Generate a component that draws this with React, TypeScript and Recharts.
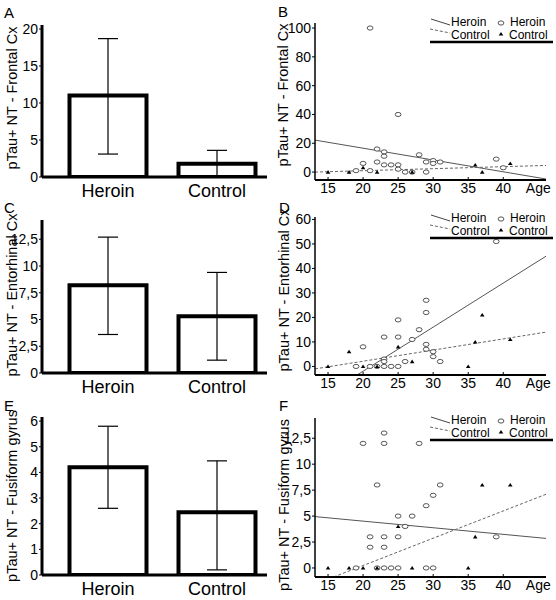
import React from "react";
import { ComposedChart, Bar, ErrorBar, XAxis, YAxis, Scatter, Line } from "recharts";

const FONT = '"Liberation Sans", Arial, Helvetica, sans-serif';

// bar panels (A, C, E)
const groups = ["Heroin", "Control"];
const frontalMean = [11, 1.8];
const frontalLow = [3.1, 0];
const frontalHigh = [18.7, 3.6];
const entoMean = [8.2, 5.3];
const entoLow = [3.6, 1.2];
const entoHigh = [12.7, 9.4];
const fusiMean = [4.2, 2.45];
const fusiLow = [2.6, 0.2];
const fusiHigh = [5.8, 4.45];

// scatter panels (B, D, F): [age, count]
const frontalHeroin = [
  [21, 100], [25, 40], [22, 16], [23, 14], [23, 11], [20, 6], [22, 7], [23, 5],
  [24, 5], [25, 5], [25, 2], [19, 1], [21, 1], [26, 0], [27, 0], [29, 0],
  [28, 12], [29, 7], [30, 8], [30, 6], [31, 7], [39, 9], [40, 3],
];
const frontalControl = [[15, 0], [18, 0], [20, 3], [22, 0], [27, 0], [36, 5], [37, 0], [41, 6]];
const entoHeroin = [
  [39, 51], [29, 27], [29, 22], [25, 19], [28, 15], [23, 12], [25, 12], [27, 11],
  [20, 8], [29, 9], [29, 7], [30, 6], [30, 4], [31, 2], [26, 2], [23, 3], [23, 2],
  [19, 0], [21, 0], [22, 0], [23, 0], [24, 0], [25, 0],
];
const entoControl = [[15, 0], [18, 6], [20, 0], [22, 0], [25, 8], [27, 2], [35, 0], [36, 10], [37, 21], [41, 11]];
const fusiHeroin = [
  [23, 13], [23, 12], [20, 12], [28, 12], [22, 8], [31, 8], [30, 7], [29, 6],
  [25, 5], [27, 5], [26, 4], [21, 3], [23, 3], [25, 3], [39, 3], [21, 2], [23, 2],
  [19, 0], [22, 0], [23, 0], [24, 0], [25, 0], [29, 0], [30, 0],
];
const fusiControl = [[15, 0], [18, 0], [20, 0], [22, 0], [25, 4], [27, 0], [35, 0], [36, 3], [37, 8], [41, 8]];

// fitted lines, read at both ends
const frontalHeroinFit = [[13.14, 22.2], [46.1, -4.8]];
const frontalControlFit = [[13.14, 0], [46.1, 4.6]];
const entoHeroinFit = [[19.14, -3.5], [46.1, 45]];
const entoControlFit = [[13.14, -1], [46.1, 14]];
const fusiHeroinFit = [[13.14, 4.95], [46.1, 2.85]];
const fusiControlFit = [[15.8, -0.87], [46.1, 7.1]];

const ageTicks = [15, 20, 25, 30, 35, 40, 45];

const comma = (v: number) => String(v).replace(".", ",");
const toPts = (arr: number[][]) => arr.map(([age, v]) => ({ age, v }));

const OpenEllipse = (p: any) => (
  <ellipse cx={p.cx} cy={p.cy} rx={2.9} ry={2.1} fill="#fff" stroke="#444" strokeWidth={0.9} />
);
const FilledTri = (p: any) => (
  <polygon
    points={`${p.cx - 2.3},${p.cy + 1.6} ${p.cx + 2.3},${p.cy + 1.6} ${p.cx},${p.cy - 2}`}
    fill="#000"
  />
);

const AgeTick = (props: any) => {
  const { x, y, payload } = props;
  const isAge = payload.value === 45;
  return (
    <g>
      {!isAge && <line x1={x} x2={x} y1={y - 3} y2={y - 6} stroke="#000" strokeWidth={1} />}
      <text x={x} y={y} dy="0.71em" textAnchor="middle" fontSize={14} fill="#000" fontFamily={FONT}>
        {isAge ? "Age" : payload.value}
      </text>
    </g>
  );
};

const BarPanel = ({ top, height, marginTop, xHeight, mean, low, high, yMax, yTicks }: any) => {
  const data = groups.map((g, i) => ({
    pos: i + 1,
    name: g,
    mean: mean[i],
    err: [mean[i] - low[i], high[i] - mean[i]],
  }));
  return (
    <div style={{ position: "absolute", left: 0, top }}>
      <ComposedChart width={278} height={height} data={data} margin={{ top: marginTop, right: 11, left: 0, bottom: 0 }}>
        <XAxis
          type="number"
          dataKey="pos"
          domain={[0.3945, 2.4587]}
          ticks={[1, 2]}
          tickFormatter={(v) => groups[v - 1]}
          allowDataOverflow
          height={xHeight}
          axisLine={{ stroke: "#000", strokeWidth: 3 }}
          tickLine={false}
          tickMargin={1}
          tick={{ fill: "#000", fontSize: 18, fontFamily: FONT }}
        />
        <YAxis
          type="number"
          width={42}
          domain={[0, yMax]}
          ticks={yTicks}
          tickFormatter={comma}
          allowDataOverflow
          axisLine={{ stroke: "#000", strokeWidth: 3 }}
          tickLine={{ stroke: "#000" }}
          tickSize={3}
          tickMargin={1}
          tick={{ fill: "#000", fontSize: 14, fontFamily: FONT }}
        />
        <Bar dataKey="mean" fill="#fff" stroke="#000" strokeWidth={4} barSize={77} isAnimationActive={false}>
          <ErrorBar dataKey="err" width={10} stroke="#000" strokeWidth={1.2} direction="y" />
        </Bar>
      </ComposedChart>
    </div>
  );
};

const ScatterPanel = ({ top, height, marginTop, xHeight, heroin, control, heroinFit, controlFit, yDomain, yTicks }: any) => (
  <div style={{ position: "absolute", left: 278, top }}>
    <ComposedChart width={278} height={height} margin={{ top: marginTop, right: 10, left: 0, bottom: 0 }}>
      <XAxis
        type="number"
        dataKey="age"
        domain={[13.14, 46.1]}
        ticks={ageTicks}
        allowDataOverflow
        height={xHeight}
        axisLine={{ stroke: "#000", strokeWidth: 2 }}
        tickLine={false}
        tickSize={0}
        tickMargin={3}
        tick={<AgeTick />}
      />
      <YAxis
        type="number"
        width={37}
        domain={yDomain}
        ticks={yTicks}
        tickFormatter={comma}
        allowDataOverflow
        axisLine={{ stroke: "#000", strokeWidth: 1.5 }}
        tickLine={{ stroke: "#000" }}
        tickSize={3}
        tickMargin={1}
        tick={{ fill: "#000", fontSize: 14, fontFamily: FONT }}
      />
      <Line data={toPts(heroinFit)} dataKey="v" stroke="#555" strokeWidth={1} dot={false} isAnimationActive={false} />
      <Line
        data={toPts(controlFit)}
        dataKey="v"
        stroke="#666"
        strokeWidth={1}
        strokeDasharray="3 2"
        dot={false}
        isAnimationActive={false}
      />
      <Scatter data={toPts(heroin)} dataKey="v" shape={OpenEllipse} isAnimationActive={false} />
      <Scatter data={toPts(control)} dataKey="v" shape={FilledTri} isAnimationActive={false} />
    </ComposedChart>
  </div>
);

const FitLegend = ({ dy }: { dy: number }) => (
  <g transform={`translate(0, ${dy})`} fontFamily={FONT} fontSize={12} fill="#000">
    <line x1={431} y1={19} x2={450} y2={25} stroke="#444" strokeWidth={1} />
    <text x={451} y={26}>Heroin</text>
    <line x1={430} y1={29} x2={450} y2={33} stroke="#666" strokeWidth={1} strokeDasharray="3 2" />
    <text x={451} y={38.5}>Control</text>
    <ellipse cx={501} cy={23} rx={2.9} ry={2.1} fill="#fff" stroke="#444" strokeWidth={0.9} />
    <text x={510} y={26}>Heroin</text>
    <polygon points="498.7,35.6 503.3,35.6 501,32" fill="#000" />
    <text x={509} y={38.5}>Control</text>
    <line x1={430} y1={42} x2={553} y2={42} stroke="#000" strokeWidth={2.5} />
  </g>
);

const YLabel = ({ x, y, text }: { x: number; y: number; text: string }) => (
  <text
    x={x}
    y={y}
    transform={`rotate(-90, ${x}, ${y})`}
    textAnchor="middle"
    dominantBaseline="central"
    fontFamily={FONT}
    fontSize={14.5}
    fill="#000"
  >
    {text}
  </text>
);

export default function App() {
  return (
    <div style={{ position: "absolute", left: 0, top: 0, width: 556, height: 600, background: "#fff", overflow: "hidden" }}>
      <BarPanel top={0} height={205} marginTop={25} xHeight={28} mean={frontalMean} low={frontalLow} high={frontalHigh} yMax={20.54} yTicks={[0, 5, 10, 15, 20]} />
      <BarPanel top={197} height={205} marginTop={23} xHeight={29} mean={entoMean} low={entoLow} high={entoHigh} yMax={14.3} yTicks={[0, 2.5, 5, 7.5, 10, 12.5]} />
      <BarPanel top={394} height={206} marginTop={23} xHeight={25} mean={fusiMean} low={fusiLow} high={fusiHigh} yMax={6.16} yTicks={[0, 1, 2, 3, 4, 5, 6]} />
      <ScatterPanel top={0} height={197} marginTop={23} xHeight={17} heroin={frontalHeroin} control={frontalControl} heroinFit={frontalHeroinFit} controlFit={frontalControlFit} yDomain={[-5.5, 103.5]} yTicks={[0, 20, 40, 60, 80, 100]} />
      <ScatterPanel top={197} height={197} marginTop={20} xHeight={19} heroin={entoHeroin} control={entoControl} heroinFit={entoHeroinFit} controlFit={entoControlFit} yDomain={[-3.5, 61]} yTicks={[0, 10, 20, 30, 40, 50, 60]} />
      <ScatterPanel top={394} height={206} marginTop={24} xHeight={23} heroin={fusiHeroin} control={fusiControl} heroinFit={fusiHeroinFit} controlFit={fusiControlFit} yDomain={[-0.87, 14.45]} yTicks={[0, 2.5, 5, 7.5, 10, 12.5]} />
      <svg width={556} height={600} style={{ position: "absolute", left: 0, top: 0, pointerEvents: "none" }}>
        <g fontFamily={FONT} fontSize={15} fill="#000">
          <text x={4} y={18}>A</text>
          <text x={278} y={17}>B</text>
          <text x={4} y={213}>C</text>
          <text x={279} y={213}>D</text>
          <text x={4} y={411}>E</text>
          <text x={279} y={411}>F</text>
        </g>
        <YLabel x={12} y={98} text="pTau+ NT - Frontal Cx" />
        <YLabel x={283} y={95} text="pTau+ NT - Frontal Cx" />
        <YLabel x={12} y={295} text="pTau+ NT - Entorhinal Cx" />
        <YLabel x={284} y={290} text="pTau+ NT - Entorhinal Cx" />
        <YLabel x={12} y={496} text="pTau+ NT - Fusiform gyrus" />
        <YLabel x={284} y={505} text="pTau+ NT - Fusiform gyrus" />
        <FitLegend dy={0} />
        <FitLegend dy={196} />
        <FitLegend dy={398} />
      </svg>
    </div>
  );
}
